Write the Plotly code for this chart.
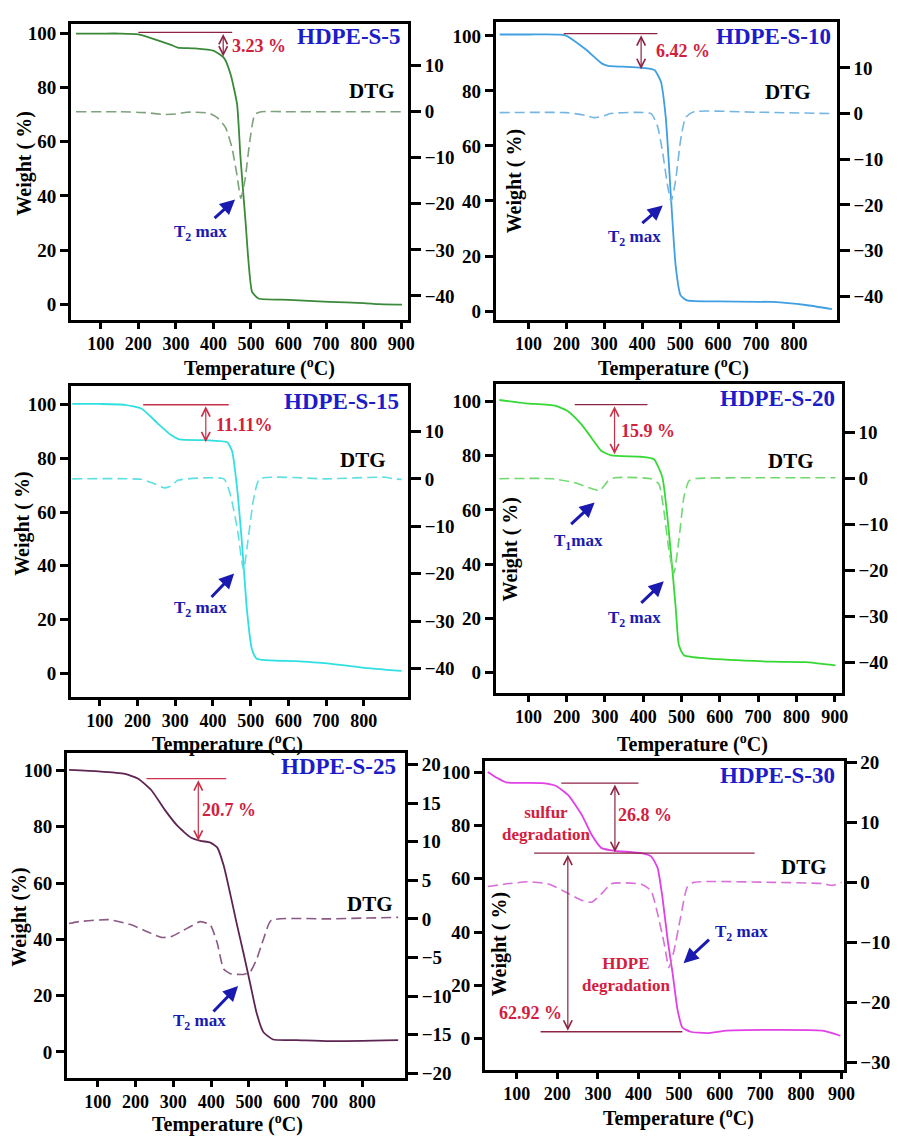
import plotly.graph_objects as go

# ---------------- data ----------------
# HDPE-S-5
temp_s5 = [34, 100, 150, 200, 250, 287, 305, 349, 401, 428, 446, 463, 472, 485, 503, 520, 600, 708, 800, 840, 902]
weight_s5 = [100, 100, 100, 99.7, 97.6, 95.8, 94.8, 94.5, 93.6, 91, 84.8, 73.8, 54.4, 31.4, 4.5, 2.1, 1.6, 0.85, 0.4, 0, -0.2]
dtg_temp_s5 = [34, 150, 220, 270, 300, 330, 388, 410, 432, 449, 462, 473, 484, 497, 510, 527, 600, 700, 800, 902]
dtg_s5 = [0, 0, -0.2, -0.6, -0.5, -0.1, -0.3, -1.3, -3.4, -7.7, -13.4, -18.8, -14.8, -6.3, -0.6, 0, 0, 0, 0, 0]

# HDPE-S-10
temp_s10 = [24, 100, 197, 249, 293, 310, 350, 397, 432, 449, 462, 475, 488, 501, 518, 600, 744, 831, 900]
weight_s10 = [100.5, 100.5, 100.2, 95.3, 90, 89.1, 88.8, 88.4, 87.6, 83.4, 70.3, 42.8, 16.5, 5.7, 3.9, 3.5, 3.3, 2.2, 0.7]
dtg_temp_s10 = [24, 200, 250, 275, 300, 315, 423, 440, 453, 466, 476, 488, 501, 514, 536, 700, 900]
dtg_s10 = [0.2, 0.2, -0.4, -0.9, -0.5, 0, 0, -2.7, -8.1, -15.4, -19.3, -14.6, -5.9, -0.9, 0.4, 0.3, 0]

# HDPE-S-15
temp_s15 = [27, 100, 167, 211, 254, 289, 311, 380, 438, 451, 464, 477, 490, 503, 516, 621, 708, 796, 900]
weight_s15 = [100.3, 100.3, 100, 98.5, 93, 88.7, 87.1, 86.8, 86, 82.6, 69, 48.3, 23.8, 9.1, 5.4, 4.5, 3.6, 2.1, 0.85]
dtg_temp_s15 = [27, 210, 240, 272, 290, 307, 429, 446, 464, 481, 494, 507, 524, 700, 857, 880, 900]
dtg_s15 = [0, -0.1, -0.9, -1.9, -1.5, -0.3, 0, -3.3, -10.2, -19.2, -12.3, -4.6, 0, 0, 0.35, 0, -0.1]

# HDPE-S-20
temp_s20 = [24, 93, 170, 205, 239, 265, 291, 317, 394, 428, 450, 463, 476, 485, 493, 506, 566, 738, 824, 902]
weight_s20 = [100.5, 99.3, 98.4, 96.2, 91.4, 86.5, 81.7, 80.1, 79.6, 78.7, 72, 57.5, 38, 23.5, 10.2, 6.5, 5.3, 4.1, 3.9, 2.7]
dtg_temp_s20 = [24, 162, 222, 256, 286, 308, 325, 420, 441, 454, 467, 480, 493, 506, 519, 532, 700, 902]
dtg_s20 = [0, 0, -0.9, -1.9, -2.6, -0.5, 0.2, 0, -1.2, -7, -15.5, -20.6, -13.4, -4.1, -0.5, 0, 0.2, 0.2]

# HDPE-S-25
temp_s25 = [24, 102, 172, 207, 242, 277, 311, 346, 372, 398, 416, 433, 451, 468, 486, 503, 520, 538, 564, 625, 712, 895]
weight_s25 = [100.2, 99.7, 98.8, 97.1, 93, 86.1, 80.3, 76.2, 75, 74.4, 72.7, 66.3, 55.9, 45.4, 34.9, 24.5, 14, 7.1, 4.4, 4.2, 3.8, 4.2]
dtg_temp_s25 = [24, 50, 129, 190, 233, 268, 294, 337, 372, 398, 416, 433, 451, 486, 503, 520, 538, 559, 712, 895]
dtg_s25 = [-0.6, -0.35, -0.1, -0.8, -1.7, -2.4, -2.3, -1.2, -0.35, -0.8, -3.1, -6.5, -7.1, -7.2, -6.9, -5.3, -2.7, -0.2, 0, 0.2]

# HDPE-S-30
temp_s30 = [29, 50, 74, 163, 196, 228, 261, 285, 309, 342, 407, 431, 447, 459, 472, 484, 496, 508, 528, 569, 618, 731, 853, 897]
weight_s30 = [100.1, 98, 96.2, 95.9, 94.9, 91.2, 83.8, 76.4, 71.5, 70.5, 69.6, 68.4, 64.1, 53, 36.9, 24.6, 11, 4.2, 2.6, 2.1, 3, 3.3, 3, 1.1]
dtg_temp_s30 = [29, 82, 131, 180, 220, 261, 285, 309, 334, 407, 431, 447, 463, 475, 488, 504, 520, 536, 731, 853, 877, 900]
dtg_s30 = [-0.7, -0.2, 0.1, -0.3, -1.6, -3, -3.3, -1.9, -0.2, -0.3, -1.4, -5.2, -10.1, -14.2, -11.2, -5.7, -0.8, 0, 0, -0.2, -0.5, 0]

sample_names = ["HDPE-S-5", "HDPE-S-10", "HDPE-S-15", "HDPE-S-20", "HDPE-S-25", "HDPE-S-30"]
weight_ticks = [0, 20, 40, 60, 80, 100]

# ---------------- layout helpers ----------------
W, H = 899, 1141
SERIF = "Liberation Serif, Times New Roman, serif"
RED = "#d2203c"
MAROON = "#8e2444"
BLUE_T = "#1c1cc8"
BLUE_A = "#1a1ab0"


def px(x):
    return x / W


def py(y):
    return 1 - y / H


panels = [
    dict(T=temp_s5, Wt=weight_s5, Td=dtg_temp_s5, D=dtg_s5, color="#3a8a3a", dcolor="#7da27d",
         box=(72, 413, 15, 315), xr=[21, 918], yr=[-5.8, 103.6], y2r=[-45.2, 19.1],
         xt=[100, 200, 300, 400, 500, 600, 700, 800, 900], y2t=[-40, -30, -20, -10, 0, 10]),
    dict(T=temp_s10, Wt=weight_s10, Td=dtg_temp_s10, D=dtg_s10, color="#3f9fe2", dcolor="#74b6e2",
         box=(502, 847, 13, 315), xr=[14, 912.5], yr=[-3.2, 105.1], y2r=[-45.2, 20.1],
         xt=[100, 200, 300, 400, 500, 600, 700, 800], y2t=[-40, -30, -20, -10, 0, 10]),
    dict(T=temp_s15, Wt=weight_s15, Td=dtg_temp_s15, D=dtg_s15, color="#30e0e0", dcolor="#5fe0e0",
         box=(72, 413, 382, 697), xr=[24, 917], yr=[-8.8, 107], y2r=[-46, 19.6],
         xt=[100, 200, 300, 400, 500, 600, 700, 800], y2t=[-40, -30, -20, -10, 0, 10]),
    dict(T=temp_s20, Wt=weight_s20, Td=dtg_temp_s20, D=dtg_s20, color="#35d835", dcolor="#72d872",
         box=(502, 852, 380, 693), xr=[15, 918], yr=[-7.4, 106.4], y2r=[-46.6, 20.6],
         xt=[100, 200, 300, 400, 500, 600, 700, 800, 900], y2t=[-40, -30, -20, -10, 0, 10]),
    dict(T=temp_s25, Wt=weight_s25, Td=dtg_temp_s25, D=dtg_s25, color="#5e2452", dcolor="#8a5a84",
         box=(68, 410, 754, 1083), xr=[19, 913], yr=[-9.2, 106.2], y2r=[-20.6, 21.5],
         xt=[100, 200, 300, 400, 500, 600, 700, 800], y2t=[-20, -15, -10, -5, 0, 5, 10, 15, 20]),
    dict(T=temp_s30, Wt=weight_s30, Td=dtg_temp_s30, D=dtg_s30, color="#e040e6", dcolor="#d870d8",
         box=(491, 854, 762, 1075), xr=[22, 905], yr=[-11.7, 104.2], y2r=[-31.2, 20.2],
         xt=[100, 200, 300, 400, 500, 600, 700, 800, 900], y2t=[-30, -20, -10, 0, 10, 20]),
]

fig = go.Figure()
layout = {}
tickfont = dict(family=SERIF, size=19, color="black", weight="bold")
xtickfont = dict(family=SERIF, size=18, color="black", weight="bold")

for i, p in enumerate(panels):
    xn = "" if i == 0 else str(i + 1)
    yl = "" if i == 0 else str(2 * i + 1)
    yr = str(2 * i + 2)
    fig.add_trace(go.Scatter(x=p["T"], y=p["Wt"], xaxis="x" + xn, yaxis="y" + yl, mode="lines",
                             line=dict(color=p["color"], width=1.8, shape="spline", smoothing=0.5),
                             showlegend=False, hoverinfo="skip"))
    fig.add_trace(go.Scatter(x=p["Td"], y=p["D"], xaxis="x" + xn, yaxis="y" + yr, mode="lines",
                             line=dict(color=p["dcolor"], width=1.6, dash="10px,5px", shape="spline", smoothing=0.5),
                             showlegend=False, hoverinfo="skip"))
    x0, x1, y0, y1 = p["box"]
    layout["xaxis" + xn] = dict(domain=[px(x0), px(x1)], range=p["xr"], anchor="y" + yl,
                                showline=True, mirror=True, linewidth=3, linecolor="black",
                                ticks="outside", ticklen=6, tickwidth=3, tickcolor="black",
                                tickvals=p["xt"], tickfont=xtickfont, showgrid=False, zeroline=False)
    layout["yaxis" + yl] = dict(domain=[py(y1), py(y0)], range=p["yr"], anchor="x" + xn,
                                showline=True, mirror=True, linewidth=3, linecolor="black",
                                ticks="outside", ticklen=8, tickwidth=3, tickcolor="black",
                                tickvals=weight_ticks, tickfont=tickfont, showgrid=False, zeroline=False)
    layout["yaxis" + yr] = dict(overlaying="y" + yl, side="right", anchor="x" + xn, range=p["y2r"],
                                showline=False, ticks="outside", ticklen=12, tickwidth=3, tickcolor="black",
                                tickvals=p["y2t"], tickfont=tickfont, showgrid=False, zeroline=False)

ann = []


def text(x, y, s, size=18, color="black", xanchor="center", yanchor="middle", angle=0):
    ann.append(dict(x=px(x), y=py(y), xref="paper", yref="paper", text=s, showarrow=False,
                    xanchor=xanchor, yanchor=yanchor, textangle=angle,
                    font=dict(family=SERIF, size=size, color=color, weight="bold")))


def blue_arrow(hx, hy, ax, ay):
    ann.append(dict(x=px(hx), y=py(hy), xref="paper", yref="paper", text="", showarrow=True,
                    ax=ax, ay=ay, arrowhead=2, arrowsize=1.0, arrowwidth=3, arrowcolor=BLUE_A))


shapes = []


def hline(i, xa, xb, yv, color=MAROON):
    xn = "" if i == 0 else str(i + 1)
    yl = "" if i == 0 else str(2 * i + 1)
    shapes.append(dict(type="line", xref="x" + xn, yref="y" + yl, x0=xa, x1=xb, y0=yv, y1=yv,
                       line=dict(color=color, width=1.3)))


def darrow(i, xv, ytop, ybot, color=MAROON):
    xn = "" if i == 0 else str(i + 1)
    yl = "" if i == 0 else str(2 * i + 1)
    ann.append(dict(x=xv, y=ybot, xref="x" + xn, yref="y" + yl, ax=xv, ay=ytop,
                    axref="x" + xn, ayref="y" + yl, text="", showarrow=True,
                    arrowside="end+start", arrowhead=5, arrowsize=1.4, arrowwidth=1.2, arrowcolor=color))


XT = "<b>Temperature (<sup>o</sup>C)</b>"

# Panel 1
text(408, 28, "<b>HDPE-S-5</b>", 23, BLUE_T, xanchor="right")
text(377, 83, "<b>DTG</b>", 21)
text(262, 37, "<b>3.23 %</b>", 18, RED)
text(203, 227, "<b>T<sub>2</sub> max</b>", 17, BLUE_A)
blue_arrow(238, 193, -22, 20)
hline(0, 200, 450, 100.4)
darrow(0, 426, 100.4, 91.5)
text(25, 157, "<b>Weight ( %)</b>", 20, angle=-90)
text(263, 363, XT, 20)

# Panel 2
text(843, 28, "<b>HDPE-S-10</b>", 23, BLUE_T, xanchor="right")
text(798, 84, "<b>DTG</b>", 21)
text(691, 43, "<b>6.42 %</b>", 18, RED)
text(642, 232, "<b>T<sub>2</sub> max</b>", 17, BLUE_A)
blue_arrow(671, 199, -22, 19)
hline(1, 193, 440, 100.8)
darrow(1, 397, 100.8, 87.9)
text(521, 175, "<b>Weight ( %)</b>", 20, angle=-90)
text(682, 363, XT, 20)

# Panel 3
text(406, 398, "<b>HDPE-S-15</b>", 23, BLUE_T, xanchor="right")
text(367, 457, "<b>DTG</b>", 21)
text(248, 422, "<b>11.11%</b>", 18, RED)
text(203, 608, "<b>T<sub>2</sub> max</b>", 17, BLUE_A)
blue_arrow(237, 572, -24, 25)
hline(2, 215, 442, 100, color="#c83048")
darrow(2, 381, 100, 86, color="#c83048")
text(22, 522, "<b>Weight ( %)</b>", 20, angle=-90)
text(230, 744, XT, 20)

# Panel 4
text(847, 395, "<b>HDPE-S-20</b>", 23, BLUE_T, xanchor="right")
text(801, 458, "<b>DTG</b>", 21)
text(656, 428, "<b>15.9 %</b>", 18, RED)
text(586, 540, "<b>T<sub>1</sub>max</b>", 17, BLUE_A)
blue_arrow(602, 500, -25, 23)
text(642, 618, "<b>T<sub>2</sub> max</b>", 17, BLUE_A)
blue_arrow(672, 580, -24, 23)
hline(3, 221, 411, 98.8)
darrow(3, 325, 98.8, 80.5, color="#c83048")
text(517, 548, "<b>Weight ( %)</b>", 20, angle=-90)
text(701, 744, XT, 20)

# Panel 5
text(403, 768, "<b>HDPE-S-25</b>", 23, BLUE_T, xanchor="right")
text(375, 907, "<b>DTG</b>", 21)
text(232, 812, "<b>20.7 %</b>", 18, RED)
text(202, 1027, "<b>T<sub>2</sub> max</b>", 17, BLUE_A)
blue_arrow(241, 990, -26, 27)
hline(4, 229, 440, 97.1, color="#d0304c")
darrow(4, 366, 97.1, 75, color="#c83048")
text(20, 920, "<b>Weight (%)</b>", 20, angle=-90)
text(230, 1129, XT, 20)

# Panel 6
text(847, 777, "<b>HDPE-S-30</b>", 23, BLUE_T, xanchor="right")
text(814, 869, "<b>DTG</b>", 21)
text(653, 817, "<b>26.8 %</b>", 18, RED)
text(506, 825, "<b>sulfur<br>degradation</b>", 17, RED, xanchor="left")
text(587, 978, "<b>HDPE<br>degradation</b>", 17, RED, xanchor="left")
text(537, 1017, "<b>62.92 %</b>", 18, RED)
text(722, 936, "<b>T<sub>2</sub> max</b>", 17, BLUE_A, xanchor="left")
blue_arrow(692, 967, 27, -25)
hline(5, 210, 400, 95.9)
darrow(5, 342, 95.9, 70)
hline(5, 143, 686, 69.6)
darrow(5, 226, 69.6, 3)
hline(5, 159, 508, 2.6)
text(506, 948, "<b>Weight ( %)</b>", 20, angle=-90)
text(687, 1123, XT, 20)

fig.update_layout(width=W, height=H, margin=dict(l=0, r=0, t=0, b=0),
                  paper_bgcolor="white", plot_bgcolor="white",
                  annotations=ann, shapes=shapes, showlegend=False, **layout)

fig.write_html("out.html")
